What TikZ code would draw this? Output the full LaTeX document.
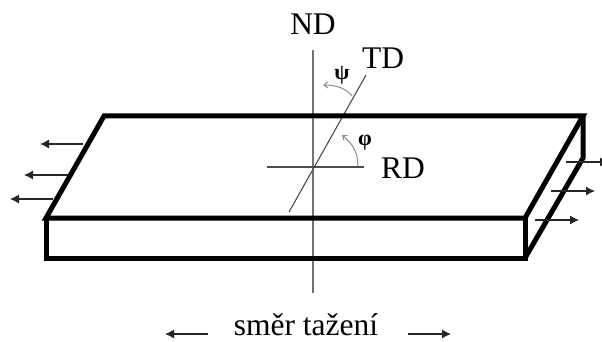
\documentclass[tikz,border=0pt]{standalone}
\usepackage{fontspec}
\setmainfont{Liberation Serif}
\usetikzlibrary{arrows.meta}
\tikzset{
  axisline/.style={draw=black!55,line width=1.1pt},
  slab/.style={draw=black,line width=5pt,line join=miter},
  pull/.style={draw=black!85,line width=1.1pt,-{Latex[length=9pt,width=9pt]}},
  arcline/.style={draw=black!45,line width=1pt,-{Straight Barb[length=4pt,width=6pt]}},
  bigtext/.style={anchor=base,inner sep=0pt,font=\fontsize{31.5}{31.5}\selectfont},
  greek/.style={anchor=center,inner sep=0pt,font=\fontsize{22}{22}\selectfont\bfseries}
}
\begin{document}
\begin{tikzpicture}[x=1pt,y=-1pt]
\useasboundingbox (0,0) rectangle (602,342);
% axes
\coordinate (ndT) at (313,50); \coordinate (ndB) at (313,293);
\coordinate (rdL) at (267,167); \coordinate (rdR) at (364,167);
\coordinate (tdT) at (366,75); \coordinate (tdB) at (289,212);
\draw[axisline] (ndT) -- (ndB);
\draw[axisline,draw=black!70] (rdL) -- (rdR);
\draw[axisline,draw=black!70] (tdT) -- (tdB);
% slab
\coordinate (a) at (46,218); \coordinate (b) at (104,116);
\coordinate (c) at (583,116); \coordinate (d) at (525,218);
\coordinate (e) at (46,258); \coordinate (f) at (525,258);
\coordinate (g) at (583,158);
\draw[slab] (a) -- (b) -- (c) -- (d) -- cycle;
\draw[slab] (a) -- (e) -- (f) -- (d);
\draw[slab] (c) -- (g) -- (f);
% pull arrows
\coordinate (l1s) at (83,144); \coordinate (l1e) at (40,144);
\coordinate (l2s) at (68,175); \coordinate (l2e) at (24,175);
\coordinate (l3s) at (53,199); \coordinate (l3e) at (10,199);
\coordinate (r1s) at (566,162); \coordinate (r1e) at (609,162);
\coordinate (r2s) at (551,191); \coordinate (r2e) at (595,191);
\coordinate (r3s) at (535,220); \coordinate (r3e) at (579,220);
\coordinate (b1s) at (208,334); \coordinate (b1e) at (165,334);
\coordinate (b2s) at (408,334); \coordinate (b2e) at (451,334);
\foreach \p in {l1,l2,l3,r1,r2,r3,b1,b2} \draw[pull] (\p s) -- (\p e);
% angle arcs
\coordinate (psiS) at (352,96); \coordinate (psiE) at (323,85);
\coordinate (phiS) at (358,166); \coordinate (phiE) at (342,135);
\draw[arcline] (psiS) .. controls (346,88) and (335,85) .. (psiE);
\draw[arcline] (phiS) .. controls (358,152) and (352,143) .. (phiE);
% labels
\node[bigtext] (nd) at (313,35) {ND};
\node[bigtext] (td) at (383,69) {TD};
\node[bigtext] (rd) at (403,178) {RD};
\node[bigtext] (sm) at (306,335) {směr tažení};
\node[greek] (psi) at (342,75) {ψ};
\node[greek] (phi) at (365,143) {φ};
\end{tikzpicture}
\end{document}
